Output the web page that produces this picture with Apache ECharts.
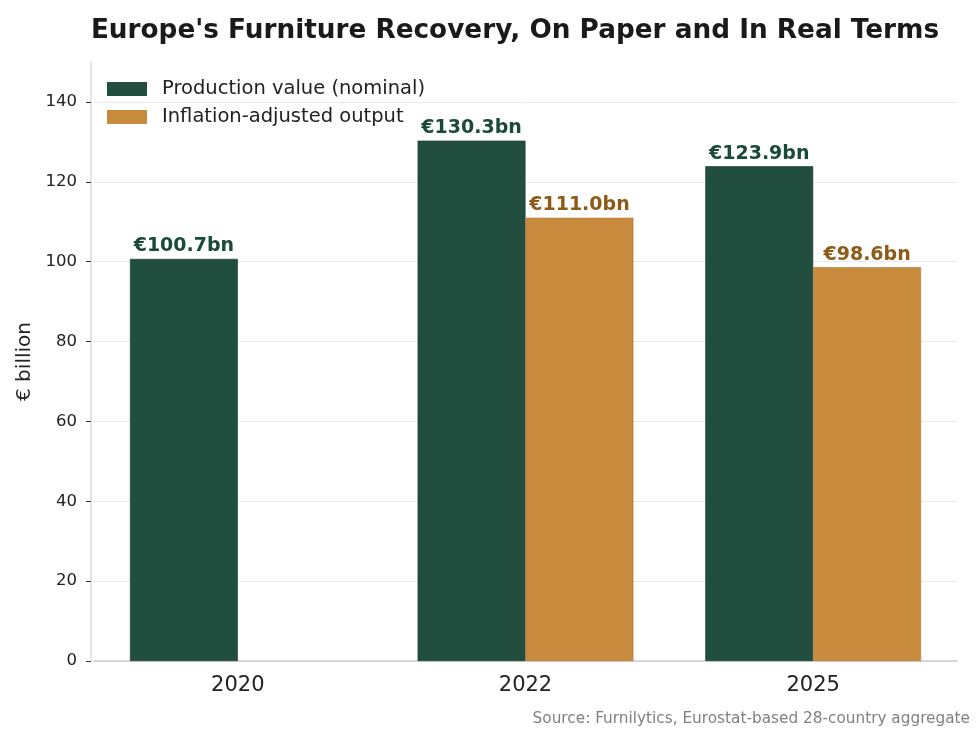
<!DOCTYPE html>
<html>
<head>
<meta charset="utf-8">
<script src="https://cdn.jsdelivr.net/npm/echarts@6/dist/echarts.min.js"></script>
<style>
  html, body { margin: 0; padding: 0; background: #fff; }
  #chart { width: 980px; height: 735px; }
</style>
</head>
<body>
<div id="chart"></div>
<script>
var years = ['2020', '2022', '2025'];
var nominal = [100.7, 130.3, 123.9];
var realOutput = ['-', 111.0, 98.6];
var yTicks = [0, 20, 40, 60, 80, 100, 120, 140];

(function () {
    var myChart = echarts.init(document.getElementById('chart'));
    var font = 'DejaVu Sans';
    var option = {
        animation: false,
        textStyle: { fontFamily: font },
        title: {
            text: "Europe's Furniture Recovery, On Paper and In Real Terms",
            left: 510,
            top: 13,
            textAlign: 'center',
            textStyle: { fontSize: 26.3, fontWeight: 'bold', color: '#1a1a1a', fontFamily: font }
        },
        graphic: [{
            type: 'text',
            right: 10,
            top: 712,
            style: {
                text: 'Source: Furnilytics, Eurostat-based 28-country aggregate',
                fill: '#808080',
                fontSize: 15.3,
                fontFamily: font
            }
        }],
        legend: {
            left: 102,
            top: 74,
            orient: 'vertical',
            itemWidth: 40,
            itemHeight: 14,
            itemGap: 8,
            icon: 'rect',
            itemStyle: { borderWidth: 0 },
            textStyle: { fontSize: 19.5, color: '#222', fontFamily: font, padding: [0, 0, 0, 10] }
        },
        // 网格略向内收，让柱子位置和原图一致，y轴用offset移回91px
        grid: {
            left: 94,
            right: 23,
            top: 62,
            bottom: 74
        },
        xAxis: {
            type: 'category',
            data: years,
            axisLine: { lineStyle: { color: '#cccccc', width: 1.5 } },
            axisTick: { alignWithLabel: true, length: 5, lineStyle: { color: '#333' } },
            axisLabel: { fontSize: 21, color: '#222', margin: 14, fontFamily: font }
        },
        yAxis: {
            type: 'value',
            min: 0,
            max: 150,
            interval: 20,
            offset: 3,
            name: '€ billion',
            nameLocation: 'middle',
            nameGap: 52,
            nameTextStyle: { fontSize: 20, color: '#222', fontFamily: font },
            axisLine: { show: true, lineStyle: { color: '#dddddd', width: 1.5 } },
            axisTick: { show: true, length: 5, customValues: yTicks, lineStyle: { color: '#333' } },
            axisLabel: { fontSize: 16.5, color: '#222', margin: 14, customValues: yTicks, fontFamily: font },
            splitLine: { lineStyle: { color: '#ebebeb', width: 1 } }
        },
        series: [
            {
                name: 'Production value (nominal)',
                type: 'bar',
                data: nominal,
                barGap: '0%',
                barCategoryGap: '25%',
                itemStyle: { color: '#214e3e', borderColor: '#17392c', borderWidth: 0.6 },
                label: {
                    show: true,
                    position: 'top',
                    distance: 3,
                    fontSize: 19,
                    fontWeight: 'bold',
                    fontFamily: font,
                    color: '#1a4a38',
                    formatter: function (p) { return '€' + p.value.toFixed(1) + 'bn'; }
                }
            },
            {
                name: 'Inflation-adjusted output',
                type: 'bar',
                data: realOutput,
                itemStyle: { color: '#c88a3d', borderColor: '#b07730', borderWidth: 0.6 },
                label: {
                    show: true,
                    position: 'top',
                    distance: 3,
                    fontSize: 19,
                    fontWeight: 'bold',
                    fontFamily: font,
                    color: '#8e5a18',
                    formatter: function (p) { return '€' + Number(p.value).toFixed(1) + 'bn'; }
                }
            }
        ]
    };
    myChart.setOption(option);
    window.addEventListener('resize', function () {
        myChart.resize();
    });
})();
</script>
</body>
</html>
